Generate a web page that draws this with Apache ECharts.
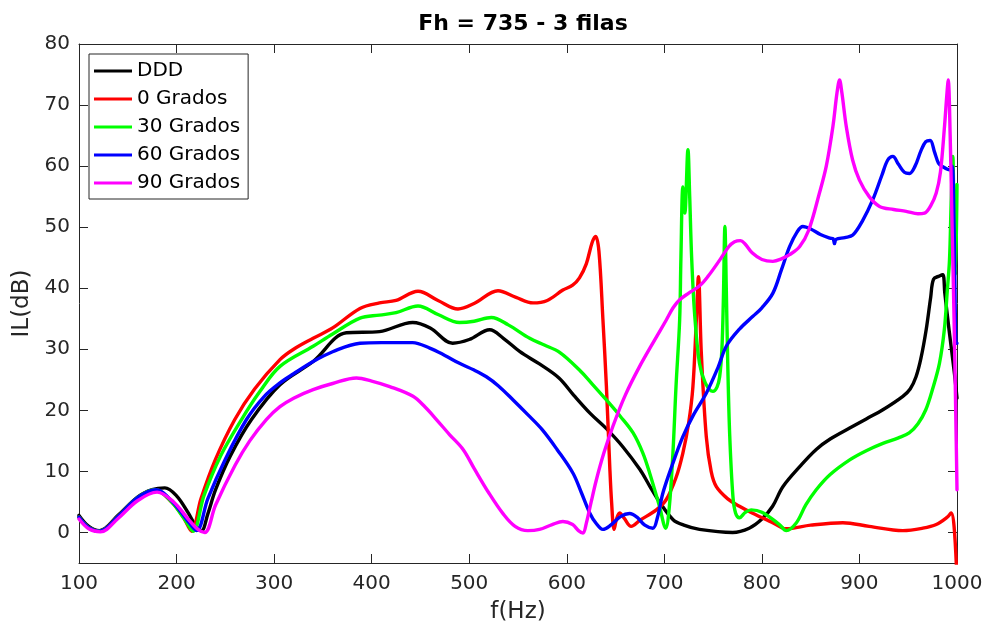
<!DOCTYPE html>
<html>
<head>
<meta charset="utf-8">
<script src="https://cdn.jsdelivr.net/npm/echarts@6/dist/echarts.min.js"></script>
<style>
html,body{margin:0;padding:0;background:#fff;}
#chart{width:988px;height:637px;}
</style>
</head>
<body>
<div id="chart"></div>
<script>
// ---- data ----
var seriesNames = ['DDD', '0 Grados', '30 Grados', '60 Grados', '90 Grados'];
var yTickValues = [0, 10, 20, 30, 40, 50, 60, 70, 80];
var xTickValues = [100, 200, 300, 400, 500, 600, 700, 800, 900, 1000];

var dddF  = [100,110,121,140,160,175,188,200,212,220,225.6,232,240,255,276.8,306,340,374,408,442,460,483,500,521,535,552,572,592,607,624,640.6,657.6,675,685,695,709,720,736,770,787,800,811,821.5,840,855.7,870,890,907,924,944.5,952,958,963,968.4,973,976,982,985.5,987.5,992,997.4,1000];
var dddIL = [2.8,1.0,0.3,2.8,5.8,7.0,7.3,6.0,3.2,1.0,0.3,3,7,12.5,18.5,24.2,28,32.7,32.9,34.4,33.5,31,31.6,33.2,31.8,29.6,27.6,25.3,22.5,19.5,17.0,14.0,10.3,7.6,5.0,2.1,1.2,0.5,0.0,0.7,2.2,4.3,7.5,11,13.6,15.3,17.1,18.6,20.1,22.3,23.5,25.5,28.5,33.2,38.5,41.5,42,42.2,39.2,33,26,22];

var g0F  = [100,110,121,140,160,178,195,207,215.4,225,240,259.7,280,306,320,340,360,388,408,425,447.5,468,488.5,505,529.5,548,565.4,580,596,606,613,620,626,629.6,633,637,640.6,644,646,648.5,651,654.2,659,666,675,691.8,702,712,719,725,729.3,732.8,735,737.9,743,748,753.3,765,777,790,810,825,850,883,910,944.5,965,978.7,990,994,997,1000];
var g0IL = [2.5,0.8,0.2,2.6,5.6,7.0,5.0,2.5,0.2,5.5,12,18.5,23.5,28.3,30,31.8,33.5,36.7,37.6,38,39.5,38,36.6,37.5,39.6,38.5,37.6,38,39.7,40.5,41.7,44,47.5,48.5,46,35,24,11,4.8,0.5,2.2,3.2,2.3,1.0,2.0,3.7,5.4,9,13,18,23.9,34.8,41.9,29.4,15.7,10,7.5,5.5,4.3,3.2,1.7,0.6,1.2,1.6,1.0,0.3,0.7,1.3,2.5,3.2,1,-8];

var g30F  = [100,110,121,140,160,178,195,208,217,228,245,266.6,285,306,340,360,388,408,425,447.5,468,490,505,522.7,540,562,577,592.7,613,625,640.6,655,668,678,685,695,701.4,705,708.8,712,715.7,717,719,721,724.2,726,728,731,736,742,749.8,754,756.7,759,760.5,762.1,763.5,765,767,770.3,773,777,783,789,800,818,825,835,845,855.7,870,890,907,924,940,951,960,968,975,982,987,990,992.3,994,995.7,997,998.5,1000];
var g30IL = [2.5,0.8,0.2,2.6,5.7,7.0,5.0,2.2,0.2,6,12.5,18.5,23,27.2,30.5,32.5,35.1,35.6,36,37.1,35.7,34.4,34.6,35.2,34,31.8,30.7,29.5,26.6,24.5,21.7,19,16.3,13,9.7,4.3,0.7,4,13,24,34.8,45,56.6,52.3,62.7,55,45,35.9,27.7,24.5,23.1,23.8,25.5,30,38,50.1,40,27.7,16,5.9,3.2,2.4,3.3,3.7,3.3,1.3,0.3,1.5,4.5,7,9.5,11.9,13.4,14.6,15.5,16.3,17.8,20.1,23.5,27.7,33.2,39.5,44.6,54,61.6,50,42,57];

var g60F  = [100,110,121,140,160,179,196,210,220.5,232,250,271.7,290,306,320,340,360,388,410,442,459.5,475,490,505,517.6,530,545,560,575,590,606.4,615,623.5,630,637,645,655,664.4,672,680,688.3,693,698.6,708,719,730,743,755,763.5,777,790.8,800,811.3,820,828.4,836,842,850,860,870,873,874.5,876,885,893.2,903,913.7,923,929,934.2,940,946,951.3,957,963,968,972.5,977,981,985.5,992.3,995,997,999.2,1000];
var g60IL = [2.5,0.8,0.2,2.6,5.7,7.0,5.0,2.2,0.3,5.5,12,18.5,22.3,24.5,26,28,29.6,31,31.1,31.1,30.2,29,27.7,26.6,25.5,24,21.7,19.3,16.8,13.6,9.7,6.5,3.2,1.5,0.5,1.2,2.6,3.1,2.5,1.2,0.7,2.5,6.5,11,15.7,19.3,22.8,27,30.5,33.3,35.4,36.8,39.2,43,46.8,49.2,50.1,49.7,48.8,48.2,48.1,47.3,48,48.3,48.7,51,54.5,58.5,61,61.6,60.3,59,58.8,60,62.5,64,64.2,62.3,60.5,59.9,59.4,60,50,31,31];

var g90F  = [100,110,122,140,160,180,197,212,222,229,240,260,275,292,306,320,340,360,384.4,400,418.5,442.4,455,466.4,480,493.7,505,520,535,547,560,572,585,596,606,612,616.6,620,625,630.3,638,647.3,660,674.7,690,702,709,715.7,725,736.2,745,756.7,766,772,778,783,790,800,811.3,820,828.4,838.6,848,859,866,872.8,877,879.6,882,886.5,893,900,910,920.6,935,947.9,960,966.7,973,978.7,983,987.2,989.5,991,993,995,997,999.2,1000];
var g90IL = [2.2,0.6,0.1,2.3,5.2,6.6,5,2.2,0.5,0,4.5,11,15,18.5,20.6,22,23.4,24.4,25.3,24.8,23.9,22.3,20.5,18.5,16,13.6,10.5,6.5,3,1,0.3,0.5,1.3,1.8,1.3,0.3,-0.1,1.5,5,8.6,13,17.4,22.5,27.2,31.5,34.8,36.8,38.1,39.2,40.4,42,44.6,46.8,47.6,47.8,47.2,45.8,44.7,44.4,44.8,45.5,46.8,49.5,55.6,60,66.5,72,74.1,72,66.5,61,57.7,55,53.4,52.9,52.6,52.2,52.3,53.5,55.6,59,66.5,71.5,74.1,65,50,35,15,7];

var seriesColors = ['#000000', '#ff0000', '#00ff00', '#0000ff', '#ff00ff'];
var seriesF = [dddF, g0F, g30F, g60F, g90F];
var seriesIL = [dddIL, g0IL, g30IL, g60IL, g90IL];

function zip(a, b) { return a.map(function (v, i) { return [v, b[i]]; }); }

var FONT = 'DejaVu Sans';
var AX = '#262626';

var chart = echarts.init(document.getElementById('chart'), null, { renderer: 'canvas' });

var series = seriesNames.map(function (n, i) {
  return {
    name: n,
    type: 'line',
    data: zip(seriesF[i], seriesIL[i]),
    showSymbol: false,
    smooth: 0.35,
    clip: true,
    lineStyle: { color: seriesColors[i], width: 3.4, join: 'round', cap: 'round' },
    itemStyle: { color: seriesColors[i] },
    animation: false
  };
});

var baseX = {
  type: 'value', min: 100, max: 1000, interval: 100,
  axisLine: { show: true, onZero: false, lineStyle: { color: AX, width: 1 } },
  axisTick: { show: true, inside: true, length: 9, lineStyle: { color: AX } },
  splitLine: { show: false }
};
var baseY = {
  type: 'value', min: -5, max: 80,
  axisLine: { show: true, onZero: false, lineStyle: { color: AX, width: 1 } },
  axisTick: { show: true, inside: true, length: 9, customValues: yTickValues, lineStyle: { color: AX } },
  splitLine: { show: false }
};

chart.setOption({
  backgroundColor: '#ffffff',
  animation: false,
  title: {
    text: 'Fh = 735 - 3 filas',
    left: 518, top: 8, textAlign: 'center',
    textStyle: { fontFamily: FONT, fontSize: 22, fontWeight: 'bold', color: '#000' }
  },
  grid: { left: 79, right: 31, top: 44, bottom: 74, containLabel: false },
  legend: {
    orient: 'vertical',
    left: 89, top: 54,
    data: seriesNames,
    icon: 'rect',
    itemWidth: 38, itemHeight: 3, itemGap: 8, itemTextGap: 5,
    padding: [7, 8, 6, 5],
    backgroundColor: '#ffffff',
    borderColor: AX, borderWidth: 1, borderRadius: 0,
    textStyle: { fontFamily: FONT, fontSize: 20, color: '#000' }
  },
  xAxis: [
    Object.assign({}, baseX, {
      position: 'bottom',
      name: 'f(Hz)', nameLocation: 'middle', nameGap: 38,
      nameTextStyle: { fontFamily: FONT, fontSize: 23, color: AX },
      axisLabel: { show: true, margin: 11, fontFamily: FONT, fontSize: 20, color: AX,
        formatter: function (v) { return String(v); } }
    }),
    Object.assign({}, baseX, { position: 'top', axisLabel: { show: false } })
  ],
  yAxis: [
    Object.assign({}, baseY, {
      position: 'left',
      name: 'IL(dB)', nameLocation: 'middle', nameGap: 39, nameRotate: 90,
      nameTextStyle: { fontFamily: FONT, fontSize: 23, color: AX },
      axisLabel: { show: true, margin: 9, customValues: yTickValues, fontFamily: FONT, fontSize: 20, color: AX,
        formatter: function (v) { return String(v); } }
    }),
    Object.assign({}, baseY, { position: 'right', axisLabel: { show: false } })
  ],
  series: series
});
</script>
</body>
</html>
